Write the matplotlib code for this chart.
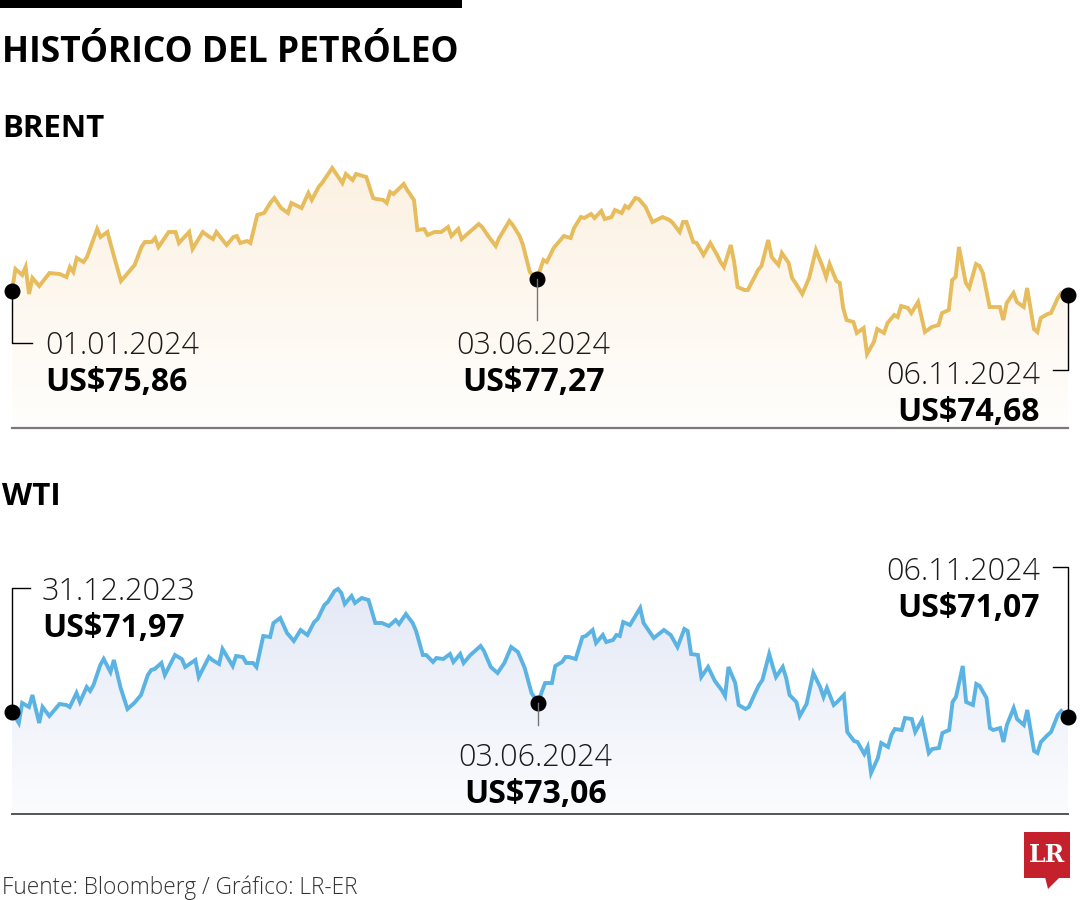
import numpy as np
import pandas as pd
import matplotlib
matplotlib.use("Agg")
import matplotlib.pyplot as plt
import matplotlib.dates as mdates
from matplotlib import font_manager
from matplotlib.patches import Rectangle, Polygon
from matplotlib.lines import Line2D
from matplotlib.colors import LinearSegmentedColormap

# ---------------- data ----------------
brent_start = "2024-01-01"
brent_days = [0, 1, 3, 4, 5, 6, 8, 11, 14, 16, 17, 18, 19, 21, 22, 25, 26, 28, 30, 32,
              34, 36, 38, 39, 41, 42, 43, 45, 46, 48, 49, 52, 53, 56, 58, 59, 60, 63, 65, 66,
              67, 69, 70, 72, 74, 76, 77, 79, 81, 82, 85, 87, 88, 90, 91, 94, 95, 97, 98, 100,
              101, 102, 104, 106, 107, 109, 110, 111, 112, 115, 116, 118, 119, 121, 122, 124, 126, 128, 129, 131,
              132, 134, 137, 138, 140, 142, 143, 146, 147, 149, 150, 152, 154, 155, 156, 157, 159, 160, 161, 162,
              164, 165, 167, 168, 170, 171, 173, 174, 176, 177, 179, 180, 181, 183, 184, 186, 188, 191, 193, 194,
              196, 197, 198, 200, 201, 203, 205, 207, 208, 209, 211, 212, 213, 215, 216, 218, 219, 220, 222, 223,
              225, 226, 228, 229, 230, 232, 234, 236, 238, 239, 240, 242, 243, 244, 245, 247, 248, 250, 251, 253,
              254, 256, 257, 259, 260, 261, 263, 264, 266, 267, 268, 270, 272, 273, 275, 276, 277, 278, 280, 281,
              283, 284, 285, 287, 288, 290, 291, 292, 294, 295, 297, 298, 300, 301, 302, 304, 305, 307, 308, 310]
brent_prices = [75.86, 78.50, 77.78, 78.74, 75.50, 77.42, 76.46, 78.02, 77.90, 77.54, 78.74, 78.14, 79.82, 79.34, 79.94, 83.30, 82.34, 82.94, 79.94, 77.06,
                78.02, 78.98, 81.14, 81.74, 81.74, 82.22, 81.14, 82.34, 82.94, 82.94, 81.62, 82.94, 80.90, 82.94, 82.34, 82.10, 82.94, 81.38, 82.34, 82.46,
                81.62, 81.86, 81.62, 84.98, 85.22, 86.54, 87.02, 85.82, 85.22, 86.42, 85.82, 87.62, 86.78, 88.34, 88.82, 90.62, 90.02, 88.82, 89.90, 89.18,
                89.90, 89.78, 89.54, 87.02, 86.90, 86.78, 86.42, 87.74, 87.50, 88.70, 87.98, 86.78, 83.18, 83.30, 82.58, 82.94, 82.94, 83.54, 82.46, 83.30,
                82.10, 82.82, 83.90, 83.54, 82.34, 81.26, 82.22, 84.26, 83.78, 82.46, 81.38, 78.14, 77.27, 78.38, 79.58, 79.34, 81.02, 81.50, 81.98, 82.46,
                82.22, 83.42, 84.74, 84.62, 85.10, 84.62, 85.46, 84.50, 84.74, 85.58, 85.22, 86.06, 85.82, 87.02, 86.90, 85.94, 84.14, 84.74, 84.38, 84.02,
                82.94, 84.14, 84.14, 81.74, 81.62, 80.18, 81.62, 80.18, 79.34, 78.74, 81.38, 79.34, 76.34, 75.98, 75.98, 77.54, 78.38, 78.86, 81.98, 79.94,
                78.98, 80.42, 79.22, 77.42, 76.82, 75.50, 77.42, 80.78, 78.74, 77.54, 79.10, 77.06, 76.82, 73.82, 72.38, 72.14, 70.82, 71.42, 68.30, 69.74,
                71.30, 70.82, 72.02, 72.98, 72.74, 74.06, 73.82, 73.22, 74.54, 72.74, 70.94, 71.54, 71.78, 73.22, 73.58, 77.18, 77.54, 81.14, 76.82, 76.22,
                79.10, 78.86, 78.02, 73.94, 73.94, 73.94, 72.38, 74.42, 75.62, 74.54, 73.94, 76.22, 71.30, 70.94, 72.62, 73.10, 73.22, 75.02, 75.62, 75.38]

wti_start = "2024-01-01"
wti_days = [-1, 1, 2, 4, 5, 7, 8, 10, 13, 15, 16, 18, 19, 21, 22, 23, 25, 26, 28, 29,
            31, 33, 35, 37, 39, 40, 41, 43, 44, 47, 49, 50, 53, 54, 57, 58, 60, 61, 64, 65,
            67, 68, 70, 71, 73, 75, 76, 78, 80, 82, 84, 86, 88, 89, 91, 92, 94, 95, 96, 97,
            99, 100, 102, 104, 106, 108, 110, 112, 113, 115, 117, 118, 120, 121, 123, 124, 126, 128, 129, 131,
            132, 134, 137, 138, 140, 142, 144, 146, 148, 150, 152, 154, 155, 156, 158, 159, 161, 162, 163, 165,
            167, 168, 170, 171, 173, 174, 176, 177, 178, 179, 181, 184, 185, 188, 191, 193, 195, 197, 198, 199,
            201, 202, 204, 206, 208, 209, 210, 212, 213, 215, 216, 218, 219, 220, 222, 223, 224, 226, 227, 228,
            230, 231, 233, 235, 237, 238, 239, 241, 242, 244, 245, 247, 248, 250, 251, 252, 254, 255, 257, 258,
            259, 261, 262, 264, 265, 267, 269, 270, 272, 273, 275, 276, 277, 279, 280, 282, 283, 284, 286, 287,
            288, 290, 291, 292, 294, 295, 297, 298, 300, 301, 302, 304, 305, 307, 308, 310]
wti_prices = [71.97, 70.65, 73.05, 72.57, 74.01, 70.65, 72.57, 71.49, 72.93, 72.81, 72.57, 74.25, 73.17, 74.97, 74.49, 75.21, 77.61, 78.33, 76.77, 78.21,
              74.85, 72.33, 73.05, 74.01, 76.41, 77.01, 77.13, 77.85, 76.41, 78.81, 78.33, 77.37, 78.21, 76.17, 78.57, 78.21, 77.73, 79.53, 77.49, 78.69,
              78.57, 77.85, 77.85, 77.37, 81.09, 80.97, 82.65, 83.25, 81.45, 80.49, 81.81, 81.21, 82.77, 83.13, 84.81, 85.17, 86.49, 86.73, 86.25, 84.93,
              85.89, 85.05, 85.65, 85.41, 82.65, 82.65, 82.29, 83.01, 82.53, 83.73, 82.65, 81.69, 78.81, 78.81, 77.97, 78.45, 78.33, 78.93, 77.97, 78.93,
              77.85, 78.81, 79.89, 79.29, 77.37, 76.65, 77.85, 79.77, 79.17, 77.25, 74.25, 73.06, 74.37, 75.45, 75.45, 77.49, 77.97, 78.57, 78.57, 78.33,
              80.97, 81.09, 81.81, 80.25, 81.21, 80.37, 80.61, 81.21, 81.09, 82.77, 82.41, 84.45, 82.65, 80.85, 81.81, 81.21, 79.77, 81.93, 81.69, 78.93,
              78.81, 76.17, 77.37, 75.69, 74.61, 73.89, 77.37, 75.45, 72.81, 72.33, 72.57, 74.37, 75.21, 75.81, 78.93, 77.49, 76.17, 77.37, 76.05, 74.01,
              73.17, 71.49, 72.93, 76.65, 74.97, 73.77, 74.85, 72.81, 73.17, 74.01, 69.57, 68.49, 68.37, 66.93, 67.77, 64.65, 66.45, 68.25, 67.77, 69.21,
              69.93, 69.81, 71.25, 71.13, 69.57, 71.01, 67.05, 67.53, 67.65, 69.45, 69.81, 73.17, 73.77, 77.49, 73.17, 72.81, 75.33, 75.09, 73.65, 70.05,
              69.81, 70.05, 68.37, 70.41, 72.45, 71.13, 70.41, 72.21, 67.29, 67.05, 68.37, 69.21, 69.57, 71.61, 72.09, 71.37]

title = "HISTÓRICO DEL PETRÓLEO"
brent_title = "BRENT"
wti_title = "WTI"
brent_labels = [("01.01.2024", "US$75,86"), ("03.06.2024", "US$77,27"), ("06.11.2024", "US$74,68")]
wti_labels = [("31.12.2023", "US$71,97"), ("03.06.2024", "US$73,06"), ("06.11.2024", "US$71,07")]
source = "Fuente: Bloomberg / Gráfico: LR-ER"

brent_dates = pd.Timestamp(brent_start) + pd.to_timedelta(brent_days, unit="D")
wti_dates = pd.Timestamp(wti_start) + pd.to_timedelta(wti_days, unit="D")

# ---------------- fonts ----------------
FONT = "Open Sans"
LIGHT_FONT, LIGHT_W = FONT, "light"
_avail = [(f.name, f.weight) for f in font_manager.fontManager.ttflist]
if not any(n == "Open Sans" and (w == 300 or w == "light") for n, w in _avail):
    if any(n == "Lato" and (w == 300 or w == "light") for n, w in _avail):
        LIGHT_FONT = "Lato"
    elif any(n == "Roboto" and (w == 300 or w == "light") for n, w in _avail):
        LIGHT_FONT = "Roboto"

# ---------------- layout ----------------
W, H = 1080, 900
fig = plt.figure(figsize=(W / 100, H / 100), dpi=100)
fig.patch.set_facecolor("white")


def fx(x):
    return x / W


def fy(y):
    return 1 - y / H


def axes_px(x0, y0, x1, y1):
    return fig.add_axes([fx(x0), fy(y1), (x1 - x0) / W, (y1 - y0) / H])


def draw_chart(ax, dates, prices, ylim, color, c_top, c_bot):
    ax.set_xlim(dates[0], dates[-1])
    ax.set_ylim(*ylim)
    ax.axis("off")
    poly = ax.fill_between(dates, prices, ylim[0], facecolor="none", edgecolor="none")
    cmap = LinearSegmentedColormap.from_list("g", [c_bot, c_top])
    grad = np.linspace(0, 1, 256).reshape(-1, 1)
    x0n, x1n = mdates.date2num(dates[0]), mdates.date2num(dates[-1])
    im = ax.imshow(grad, cmap=cmap, aspect="auto", origin="lower",
                   extent=[x0n, x1n, ylim[0], max(prices)], zorder=1)
    im.set_clip_path(poly.get_paths()[0], transform=ax.transData)
    ax.plot(dates, prices, color=color, lw=2.8, solid_joinstyle="miter", zorder=3, clip_on=False)


def dot(ax, d, p):
    ax.plot([d], [p], "o", color="black", ms=10.5, zorder=5, clip_on=False)
    disp = ax.transData.transform((mdates.date2num(d), p))
    return disp[0], H - disp[1]


def leader(pts, color="black", lw=1.0):
    xs = [fx(p[0]) for p in pts]
    ys = [fy(p[1]) for p in pts]
    fig.add_artist(Line2D(xs, ys, color=color, lw=lw, transform=fig.transFigure, zorder=4))


def label(x, y, date_txt, val_txt, ha):
    fig.text(fx(x), fy(y), date_txt, ha=ha, va="baseline", fontsize=22, family=LIGHT_FONT,
             fontweight=LIGHT_W, color="#1a1a1a")
    fig.text(fx(x), fy(y + 37), val_txt, ha=ha, va="baseline", fontsize=23, family=FONT,
             fontweight="bold", color="black")


# top bar and titles
fig.add_artist(Rectangle((0, fy(8)), fx(462), 8 / H, transform=fig.transFigure,
                         facecolor="black", edgecolor="none"))
fig.text(fx(2), fy(62), title, ha="left", va="baseline", fontsize=25.5, family=FONT,
         fontweight="bold", color="black")
fig.text(fx(2), fy(137), brent_title, ha="left", va="baseline", fontsize=22.5, family=FONT,
         fontweight="bold", color="black")
fig.text(fx(2), fy(505), wti_title, ha="left", va="baseline", fontsize=22.5, family=FONT,
         fontweight="bold", color="black")

# ---- Brent ----
ax1 = axes_px(12, 150, 1068, 428)
ylim1 = (59.42, 92.78)
draw_chart(ax1, brent_dates, brent_prices, ylim1, "#E6BC5C", "#FCF1E2", "#FFFEFC")
fig.add_artist(Line2D([fx(12), fx(1068)], [fy(428), fy(428)], color="#7a7a7a", lw=1.6,
                      transform=fig.transFigure))
i_jun = brent_days.index(154)
p0 = dot(ax1, brent_dates[0], brent_prices[0])
p1 = dot(ax1, brent_dates[i_jun], brent_prices[i_jun])
p2 = dot(ax1, brent_dates[-1], brent_prices[-1])
leader([p0, (p0[0], 343), (32, 343)])
leader([p1, (p1[0], 320)], color="#777777")
leader([p2, (p2[0], 370), (1053, 370)])
label(45, 354, *brent_labels[0], ha="left")
label(p1[0] - 3, 354, *brent_labels[1], ha="center")
label(1040, 384, *brent_labels[2], ha="right")

# ---- WTI ----
ax2 = axes_px(12, 560, 1068, 814)
ylim2 = (59.73, 90.21)
draw_chart(ax2, wti_dates, wti_prices, ylim2, "#5BB3E4", "#E4E9F6", "#FBFCFE")
fig.add_artist(Line2D([fx(12), fx(1068)], [fy(814), fy(814)], color="#555555", lw=1.4,
                      transform=fig.transFigure))
j_jun = wti_days.index(154)
q0 = dot(ax2, wti_dates[0], wti_prices[0])
q1 = dot(ax2, wti_dates[j_jun], wti_prices[j_jun])
q2 = dot(ax2, wti_dates[-1], wti_prices[-1])
leader([q0, (q0[0], 588), (30, 588)])
leader([q1, (q1[0], 725)], color="#777777")
leader([q2, (q2[0], 567), (1053, 567)])
label(42, 600, *wti_labels[0], ha="left")
label(q1[0] - 3, 766, *wti_labels[1], ha="center")
label(1040, 580, *wti_labels[2], ha="right")

# ---- footer ----
fig.text(fx(2), fy(894), source, ha="left", va="baseline", fontsize=16.3, family=LIGHT_FONT,
         fontweight=LIGHT_W, color="#333333")
red = "#C4212C"
fig.add_artist(Rectangle((fx(1024), fy(878)), 46 / W, 46 / H, transform=fig.transFigure,
                         facecolor=red, edgecolor="none"))
fig.add_artist(Polygon([(fx(1045), fy(877)), (fx(1048), fy(889)), (fx(1060), fy(877))],
                       closed=True, transform=fig.transFigure, facecolor=red, edgecolor="none"))
fig.text(fx(1047), fy(855), "LR", ha="center", va="center", fontsize=17, family="DejaVu Serif",
         fontweight="bold", color="white")

fig.savefig("out.png", dpi=100, facecolor="white")
